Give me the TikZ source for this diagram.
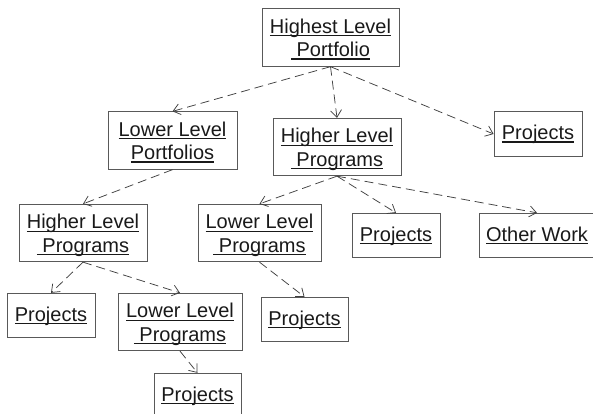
\documentclass[tikz,border=0pt]{standalone}
\usepackage{fontspec}
\setmainfont{Liberation Sans}
\usetikzlibrary{arrows.meta}
\newcommand\ulx[1]{\setbox0\hbox{#1}\rlap{\rule[-2.8pt]{\wd0}{1.2pt}}\box0}
\begin{document}
\begin{tikzpicture}[x=1pt,y=-1pt,
  box/.style={draw=black!65, line width=0.8pt, inner sep=0pt,
    font=\fontsize{20}{23.3}\selectfont, text=black!90, align=center},
  two/.style={box, text height=48pt, text depth=9.5pt},
  one/.style={box, text height=28pt, text depth=16.5pt},
  dep/.style={draw=black!75, line width=0.75pt, dash pattern=on 9pt off 5pt,
    -{Straight Barb[length=7pt,width=11pt,line width=0.75pt]}}]
\useasboundingbox (0,0) rectangle (593,413);
\node[two, minimum width=137pt] (top) at (330.5,37.5) {\ulx{Highest Level}\\\ulx{\ Portfolio}};
\node[two, minimum width=129pt] (llpf) at (172.5,140.5) {\ulx{Lower Level}\\\ulx{Portfolios}};
\node[two, minimum width=128pt] (hlpm) at (337,147) {\ulx{Higher Level}\\\ulx{\ Programs}};
\node[one, minimum width=88pt] (ptr) at (538,134) {\ulx{Projects}};
\node[two, minimum width=128pt] (hlpl) at (83,233) {\ulx{Higher Level}\\\ulx{\ Programs}};
\node[two, minimum width=123pt] (llpm) at (259.5,233) {\ulx{Lower Level}\\\ulx{\ Programs}};
\node[one, minimum width=88pt] (pm) at (396,235.5) {\ulx{Projects}};
\node[one, minimum width=116pt] (ow) at (537,235.5) {\ulx{Other Work}};
\node[one, minimum width=88pt] (pbl) at (51,315.5) {\ulx{Projects}};
\node[two, minimum width=124pt] (llpb) at (180,322) {\ulx{Lower Level}\\\ulx{\ Programs}};
\node[one, minimum width=87pt] (pbm) at (304.5,319.5) {\ulx{Projects}};
\node[one, minimum width=87pt] (pb) at (197.5,395.5) {\ulx{Projects}};
\draw[dep] (top.south) -- (llpf.north);
\draw[dep] (top.south) -- (hlpm.north);
\draw[dep] (top.south) -- (ptr.west);
\draw[dep] (llpf.south) -- (hlpl.north);
\draw[dep] (hlpm.south) -- (llpm.north);
\draw[dep] (hlpm.south) -- (pm.north);
\draw[dep] (hlpm.south) -- (ow.north);
\draw[dep] (hlpl.south) -- (pbl.north);
\draw[dep] (hlpl.south) -- (llpb.north);
\draw[dep] (llpm.south) -- (pbm.north);
\draw[dep] (llpb.south) -- (pb.north);
\end{tikzpicture}
\end{document}
